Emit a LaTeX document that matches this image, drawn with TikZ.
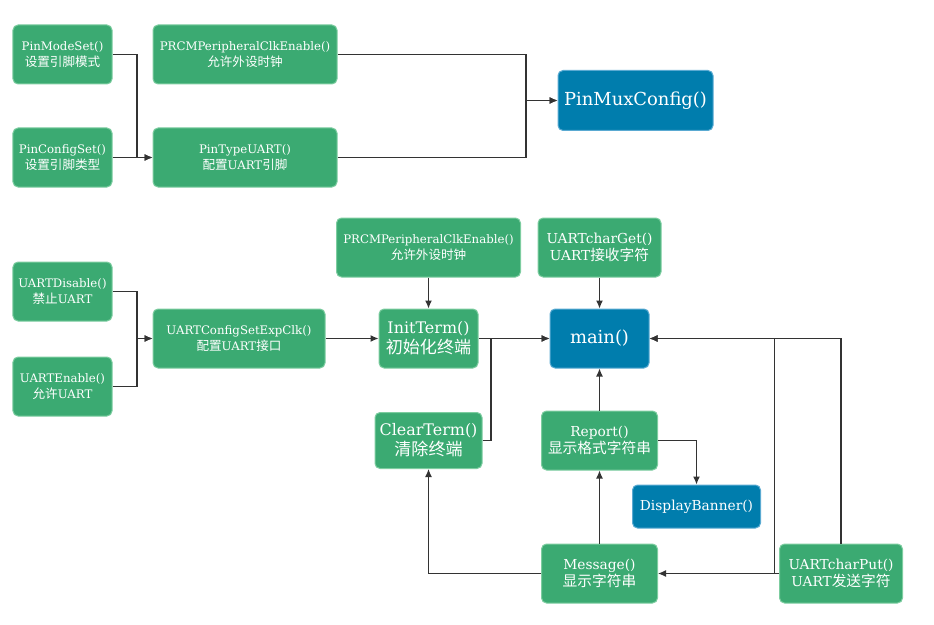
\documentclass[tikz,border=0pt]{standalone}
\usepackage{fontspec}
\usepackage{tikz}
\usetikzlibrary{positioning,arrows.meta}
\setmainfont{DejaVu Serif}
\newfontfamily\cjk[Scale=1.07]{Noto Sans CJK SC}
\definecolor{boxgreen}{RGB}{59,170,114}
\definecolor{greenedge}{RGB}{125,205,160}
\definecolor{boxblue}{RGB}{0,125,173}
\definecolor{blueedge}{RGB}{90,170,210}
\definecolor{linegray}{RGB}{51,51,51}
\tikzset{
  every node/.style={
    rounded corners=5bp,
    align=center,
    text=white,
    inner sep=0pt,
    line width=1bp
  },
  greenbox/.style={fill=boxgreen,draw=greenedge},
  bluebox/.style={fill=boxblue,draw=blueedge},
  smalltext/.style={font=\fontsize{11.8}{16}\selectfont},
  midtext/.style={font=\fontsize{13.8}{17}\selectfont},
  bigtext/.style={font=\fontsize{16}{20}\selectfont},
  hugetext/.style={font=\fontsize{18}{22}\selectfont},
  conn/.style={draw=linegray,line width=1.1bp,-{Latex[length=8bp,width=7bp]}}
}

\begin{document}
\begin{tikzpicture}[x=1bp,y=-1bp]
      \useasboundingbox (0,0) rectangle (934,625);
      \node [greenbox,smalltext,minimum width=99bp,minimum height=59bp] (PinModeSet) at (62.5,54.5) {PinModeSet()\\{\cjk 设置引脚模式}};
      \node [on grid,below=103bp of PinModeSet,greenbox,smalltext,minimum width=99bp,minimum height=59bp] (PinConfigSet) {PinConfigSet()\\{\cjk 设置引脚类型}};
      \node [on grid,right=182.5bp of PinModeSet,greenbox,smalltext,minimum width=184bp,minimum height=59bp] (PRCMClk) {PRCMPeripheralClkEnable()\\{\cjk 允许外设时钟}};
      \node [on grid,below=103bp of PRCMClk,greenbox,smalltext,minimum width=184bp,minimum height=59bp] (PinTypeUART) {PinTypeUART()\\{\cjk 配置}UART{\cjk 引脚}};
      \node [bluebox,hugetext,minimum width=155bp,minimum height=60bp] (PinMuxConfig) at (635.5,100.5) {PinMuxConfig()};
      \node [on grid,below=237bp of PinModeSet,greenbox,smalltext,minimum width=99bp,minimum height=59bp] (UARTDisable) {UARTDisable()\\{\cjk 禁止}UART};
      \node [on grid,below=95bp of UARTDisable,greenbox,smalltext,minimum width=99bp,minimum height=59bp] (UARTEnable) {UARTEnable()\\{\cjk 允许}UART};
      \node [on grid,below right=47bp and 176.5bp of UARTDisable,greenbox,smalltext,minimum width=172bp,minimum height=59bp] (UARTConfig) {UARTConfigSetExpClk()\\{\cjk 配置}UART{\cjk 接口}};
      \node [on grid,right=189.5bp of UARTConfig,greenbox,bigtext,minimum width=99bp,minimum height=59bp] (InitTerm) {InitTerm()\\{\cjk 初始化终端}};
      \node [on grid,above=91bp of InitTerm,greenbox,smalltext,minimum width=184bp,minimum height=59bp] (PRCMClkInit) {PRCMPeripheralClkEnable()\\{\cjk 允许外设时钟}};
      \node [on grid,right=171bp of InitTerm,bluebox,hugetext,minimum width=99bp,minimum height=59bp] (Main) {main()};
      \node [on grid,above=91bp of Main,greenbox,midtext,minimum width=123bp,minimum height=59bp] (UARTcharGet) {UARTcharGet()\\UART{\cjk 接收字符}};
      \node [on grid,below=102bp of Main,greenbox,midtext,minimum width=116bp,minimum height=59bp] (Report) {Report()\\{\cjk 显示格式字符串}};
      \node [on grid,left=171bp of Report,greenbox,bigtext,minimum width=107bp,minimum height=56bp] (ClearTerm) {ClearTerm()\\{\cjk 清除终端}};
      \node [on grid,below=133bp of Report,greenbox,midtext,minimum width=116bp,minimum height=59bp] (Message) {Message()\\{\cjk 显示字符串}};
      \node [on grid,below right=66bp and 97bp of Report,bluebox,midtext,minimum width=128bp,minimum height=43bp] (DisplayBanner) {DisplayBanner()};
      \node [on grid,right=241.5bp of Message,greenbox,midtext,minimum width=123bp,minimum height=59bp] (UARTcharPut) {UARTcharPut()\\UART{\cjk 发送字符}};
      \draw [conn] (PinModeSet.east) -- ++(24.5,0) |- (PinTypeUART.west);
      \draw [conn] (PinConfigSet.east) -- (PinTypeUART.west);
      \draw [conn] (PRCMClk.east) -- ++(188.5,0) |- (PinMuxConfig.west);
      \draw [conn] (PinTypeUART.east) -- ++(188.5,0) |- (PinMuxConfig.west);
      \draw [conn] (UARTDisable.east) -- ++(24.5,0) |- (UARTConfig.west);
      \draw [conn] (UARTEnable.east) -- ++(24.5,0) |- (UARTConfig.west);
      \draw [conn] (UARTConfig.east) -- (InitTerm.west);
      \draw [conn] (PRCMClkInit.south) -- (InitTerm.north);
      \draw [conn] (InitTerm.east) -- (Main.west);
      \draw [conn] (ClearTerm.east) -- ++(8.5,0) |- (Main.west);
      \draw [conn] (UARTcharGet.south) -- (Main.north);
      \draw [conn] (Report.north) -- (Main.south);
      \draw [conn] (Report.east) -| (DisplayBanner.north);
      \draw [conn] (Message.north) -- (Report.south);
      \draw [conn] (Message.west) -| (ClearTerm.south);
      \draw [conn] (UARTcharPut.north) |- (Main.east);
      \draw [conn] (UARTcharPut.west) -- ++(-4.5,0) |- (Main.east);
      \draw [conn] (UARTcharPut.west) -- (Message.east);
    \end{tikzpicture}
\end{document}
